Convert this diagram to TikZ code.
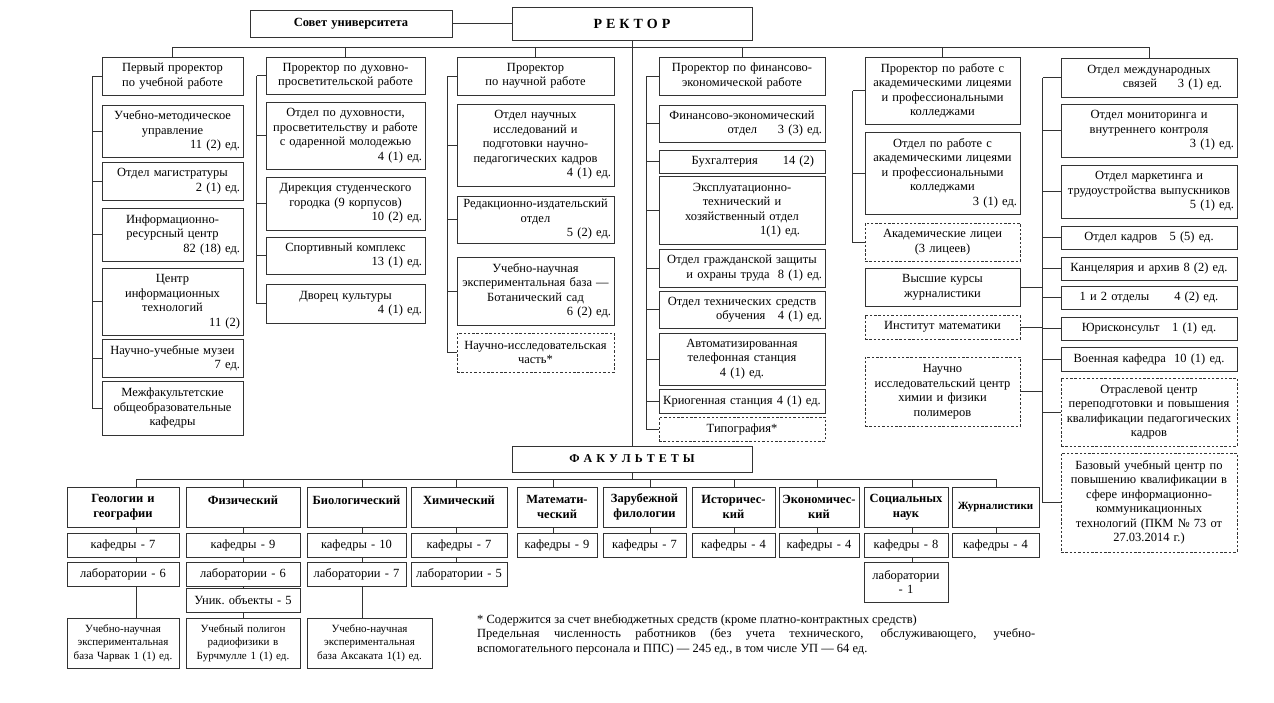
\documentclass[tikz,border=0pt]{standalone}
\usepackage{fontspec}
\setmainfont{Liberation Serif}
\newcommand\fs{\fontsize{12.5pt}{14.5pt}\selectfont}
\newcommand\fsm{\fontsize{11pt}{13.3pt}\selectfont}
\newcommand\rgt{\hspace*{0pt plus 1filll}}
\tikzset{
 box/.style={draw=black!80, line width=0.8pt, align=center, font=\fs, inner xsep=3pt, inner ysep=0pt},
 dbox/.style={dash pattern=on 2.5pt off 1.8pt},
 fac/.style={font=\fs\bfseries},
 sm/.style={font=\fsm},
 ln/.style={draw=black!80, line width=0.8pt},
}
\newcommand\bx[7][]{%
 \pgfmathsetmacro\bxw{#5-#3}%
 \pgfmathsetmacro\bxh{#6-#4}%
 \pgfmathsetmacro\bxtw{#5-#3-6}%
 \pgfmathsetmacro\bxcx{(#3+#5)/2}%
 \pgfmathsetmacro\bxcy{(#4+#6)/2}%
 \node[box,#1,minimum width=\bxw pt,minimum height=\bxh pt,text width=\bxtw pt] (#2) at (\bxcx,\bxcy) {#7};}
\begin{document}
\begin{tikzpicture}[x=1pt,y=-1pt]
\fill[white] (0,0) rectangle (1274,702);
\useasboundingbox (0,0) rectangle (1274,702);
% top
\bx[fac]{sovet}{250}{10}{452}{37}{Совет университета}
\bx[font=\fontsize{14pt}{16pt}\selectfont\bfseries]{rektor}{512}{7}{752}{40}{Р\kern4ptЕ\kern4ptК\kern4ptТ\kern4ptО\kern4ptР}
% column 1
\bx{c1h}{102}{57}{243}{95}{Первый проректор\\по учебной работе}
\bx{c1b1}{102}{105}{243}{157}{Учебно-методическое\\управление\\\rgt 11 (2) ед.}
\bx{c1b2}{102}{162}{243}{200}{Отдел магистратуры\\\rgt 2 (1) ед.}
\bx{c1b3}{102}{208}{243}{261}{Информационно-\\ресурсный центр\\\rgt 82 (18) ед.}
\bx{c1b4}{102}{268}{243}{335}{Центр\\информационных\\технологий\\\rgt 11 (2)}
\bx{c1b5}{102}{339}{243}{377}{Научно-учебные музеи\\\rgt 7 ед.}
\bx{c1b6}{102}{381}{243}{435}{Межфакультетские\\общеобразовательные\\кафедры}
% column 2
\bx{c2h}{266}{57}{425}{94}{Проректор по духовно-\\просветительской работе}
\bx{c2b1}{266}{102}{425}{169}{Отдел по духовности,\\просветительству и работе\\с одаренной молодежью\\\rgt 4 (1) ед.}
\bx{c2b2}{266}{177}{425}{230}{Дирекция студенческого\\городка (9 корпусов)\\\rgt 10 (2) ед.}
\bx{c2b3}{266}{237}{425}{274}{Спортивный комплекс\\\rgt 13 (1) ед.}
\bx{c2b4}{266}{284}{425}{323}{Дворец культуры\\\rgt 4 (1) ед.}
% column 3
\bx{c3h}{457}{57}{614}{95}{Проректор\\по научной работе}
\bx{c3b1}{457}{104}{614}{186}{Отдел научных\\исследований и\\подготовки научно-\\педагогических кадров\\\rgt 4 (1) ед.}
\bx{c3b2}{457}{196}{614}{243}{Редакционно-издательский\\отдел\\\rgt 5 (2) ед.}
\bx{c3b3}{457}{257}{614}{325}{Учебно-научная\\экспериментальная база —\\Ботанический сад\\\rgt 6 (2) ед.}
\bx[dbox]{c3b4}{457}{333}{614}{372}{Научно-исследовательская\\часть*}
% column 4
\bx{c4h}{659}{57}{825}{95}{Проректор по финансово-\\экономической работе}
\bx{c4b1}{659}{105}{825}{142}{Финансово-экономический\\\rgt отдел\quad\ \ 3 (3) ед.}
\bx{c4b2}{659}{150}{825}{173}{\rgt Бухгалтерия\qquad 14 (2)\kern8pt}
\bx{c4b3}{659}{176}{825}{244}{Эксплуатационно-\\технический и\\хозяйственный отдел\\\rgt 1(1) ед.\kern22pt}
\bx{c4b4}{659}{249}{825}{287}{Отдел гражданской защиты\\\rgt и охраны труда\ \ 8 (1) ед.}
\bx{c4b5}{659}{291}{825}{328}{Отдел технических средств\\\rgt обучения\quad 4 (1) ед.}
\bx{c4b6}{659}{333}{825}{385}{Автоматизированная\\телефонная станция\\4 (1) ед.}
\bx{c4b7}{659}{389}{825}{413}{Криогенная станция 4 (1) ед.}
\bx[dbox]{c4b8}{659}{417}{825}{441}{Типография*}
% column 5
\bx{c5h}{865}{57}{1020}{124}{Проректор по работе с\\академическими лицеями\\и профессиональными\\колледжами}
\bx{c5b1}{865}{132}{1020}{214}{Отдел по работе с\\академическими лицеями\\и профессиональными\\колледжами\\\rgt 3 (1) ед.}
\bx[dbox]{c5b2}{865}{223}{1020}{261}{Академические лицеи\\(3 лицеев)}
\bx{c5b3}{865}{268}{1020}{306}{Высшие курсы\\журналистики}
\bx[dbox]{c5b4}{865}{315}{1020}{339}{Институт математики}
\bx[dbox]{c5b5}{865}{357}{1020}{426}{Научно\\исследовательский центр\\химии и физики\\полимеров}
% column 6
\bx{c6h}{1061}{58}{1237}{97}{Отдел международных\\\rgt связей\quad\ \ 3 (1) ед.\kern12pt}
\bx{c6b1}{1061}{104}{1237}{157}{Отдел мониторинга и\\внутреннего контроля\\\rgt 3 (1) ед.}
\bx{c6b2}{1061}{165}{1237}{218}{Отдел маркетинга и\\трудоустройства выпускников\\\rgt 5 (1) ед.}
\bx{c6b3}{1061}{226}{1237}{249}{Отдел кадров\quad 5 (5) ед.}
\bx{c6b4}{1061}{257}{1237}{280}{Канцелярия и архив 8 (2) ед.}
\bx{c6b5}{1061}{286}{1237}{309}{1 и 2 отделы\qquad 4 (2) ед.}
\bx{c6b6}{1061}{317}{1237}{340}{Юрисконсульт\quad 1 (1) ед.}
\bx{c6b7}{1061}{347}{1237}{371}{Военная кафедра\ \ 10 (1) ед.}
\bx[dbox]{c6b8}{1061}{378}{1237}{446}{Отраслевой центр\\переподготовки и повышения\\квалификации педагогических\\кадров}
\bx[dbox]{c6b9}{1061}{453}{1237}{552}{Базовый учебный центр по\\повышению квалификации в\\сфере информационно-\\коммуникационных\\технологий (ПКМ № 73 от\\27.03.2014 г.)}
% top connectors
\draw[ln] (sovet.east) -- (rektor.west);
\coordinate (tb) at (632,47);
\draw[ln] (c1h.north |- tb) -- (c6h.north |- tb);
\foreach \n in {c1h,c2h,c3h,c4h,c5h,c6h} \draw[ln] (\n.north) -- (\n.north |- tb);
% column brackets
\draw[ln] (c1h.west) -- ++(-9,0) coordinate (c1l);
\draw[ln] (c1l) |- (c1b6.west);
\foreach \n in {c1b1,c1b2,c1b3,c1b4,c1b5} \draw[ln] (\n.west) -- (\n.west -| c1l);
\draw[ln] (c2h.west) -- ++(-9,0) coordinate (c2l);
\draw[ln] (c2l) |- (c2b4.west);
\foreach \n in {c2b1,c2b2,c2b3} \draw[ln] (\n.west) -- (\n.west -| c2l);
\draw[ln] (c3h.west) -- ++(-9,0) coordinate (c3l);
\draw[ln] (c3l) |- (c3b4.west);
\foreach \n in {c3b1,c3b2,c3b3} \draw[ln] (\n.west) -- (\n.west -| c3l);
\draw[ln] (c4h.west) -- ++(-12,0) coordinate (c4l);
\draw[ln] (c4l) |- (c4b8.west);
\foreach \n in {c4b1,c4b2,c4b3,c4b4,c4b5,c4b6,c4b7} \draw[ln] (\n.west) -- (\n.west -| c4l);
\draw[ln] (c5h.west) -- ++(-12,0) coordinate (c5l);
\draw[ln] (c5l) |- (c5b2.west);
\draw[ln] (c5b1.west) -- (c5b1.west -| c5l);
\draw[ln] (c6h.west) -- ++(-18,0) coordinate (c6l);
\draw[ln] (c6l) |- (c6b9.west);
\foreach \n in {c6b1,c6b2,c6b3,c6b4,c6b5,c6b6,c6b7,c6b8} \draw[ln] (\n.west) -- (\n.west -| c6l);
\foreach \n in {c5b3,c5b4,c5b5} \draw[ln] (\n.east) -- (\n.east -| c6l);
% faculties
\bx[font=\fontsize{12pt}{14pt}\selectfont\bfseries]{fak}{512}{446}{752}{472}{Ф\kern4ptА\kern4ptК\kern4ptУ\kern4ptЛ\kern4ptЬ\kern4ptТ\kern4ptЕ\kern4ptТ\kern4ptЫ}
\draw[ln] (rektor.south) -- (fak.north);
\bx[fac]{f1}{67}{487}{179}{527}{Геологии и\\географии}
\bx[fac]{f2}{186}{487}{300}{527}{Физический\\\mbox{}}
\bx[fac]{f3}{307}{487}{406}{527}{Биологический\\\mbox{}}
\bx[fac]{f4}{411}{487}{507}{527}{Химический\\\mbox{}}
\bx[fac]{f5}{517}{487}{597}{527}{Математи-\\ческий}
\bx[fac]{f6}{603}{487}{686}{527}{Зарубежной\\филологии}
\bx[fac]{f7}{692}{487}{775}{527}{Историчес-\\кий}
\bx[fac]{f8}{779}{487}{859}{527}{Экономичес-\\кий}
\bx[fac]{f9}{864}{487}{948}{527}{Социальных\\наук}
\bx[font=\fontsize{11pt}{13pt}\selectfont\bfseries]{f10}{952}{487}{1039}{527}{Журналистики}
\bx{k1}{67}{533}{179}{557}{кафедры - 7}
\bx{k2}{186}{533}{300}{557}{кафедры - 9}
\bx{k3}{307}{533}{406}{557}{кафедры - 10}
\bx{k4}{411}{533}{507}{557}{кафедры - 7}
\bx{k5}{517}{533}{597}{557}{кафедры - 9}
\bx{k6}{603}{533}{686}{557}{кафедры - 7}
\bx{k7}{692}{533}{775}{557}{кафедры - 4}
\bx{k8}{779}{533}{859}{557}{кафедры - 4}
\bx{k9}{864}{533}{948}{557}{кафедры - 8}
\bx{k10}{952}{533}{1039}{557}{кафедры - 4}
\bx{l1}{67}{562}{179}{586}{лаборатории - 6}
\bx{l2}{186}{562}{300}{586}{лаборатории - 6}
\bx{l3}{307}{562}{406}{586}{лаборатории - 7}
\bx{l4}{411}{562}{507}{586}{лаборатории - 5}
\bx{l9}{864}{562}{948}{602}{лаборатории\\- 1}
\bx{u2}{186}{588}{300}{612}{Уник.\ объекты - 5}
\bx[sm]{b1}{67}{618}{179}{668}{Учебно-научная\\экспериментальная\\база Чарвак 1 (1) ед.}
\bx[sm]{b2}{186}{618}{300}{668}{Учебный полигон\\радиофизики в\\Бурчмулле 1 (1) ед.}
\bx[sm]{b3}{307}{618}{432}{668}{Учебно-научная\\экспериментальная\\база Аксаката 1(1) ед.}
\coordinate (s1) at (136,479);
\coordinate (s2) at (243,479);
\coordinate (s3) at (362,479);
\coordinate (s4) at (456,479);
\coordinate (s5) at (553,479);
\coordinate (s6) at (650,479);
\coordinate (s7) at (734,479);
\coordinate (s8) at (817,479);
\coordinate (s9) at (912,479);
\coordinate (s10) at (996,479);
\draw[ln] (fak.south) -- (fak.south |- s1);
\draw[ln] (s1) -- (s10);
\foreach \i in {1,...,10} {
 \draw[ln] (s\i) -- (s\i |- f\i.north);
 \draw[ln] (s\i |- f\i.south) -- (s\i |- k\i.north);
}
\foreach \i in {1,2,3,4} \draw[ln] (s\i |- k\i.south) -- (s\i |- l\i.north);
\draw[ln] (s9 |- k9.south) -- (s9 |- l9.north);
\draw[ln] (s1 |- l1.south) -- (s1 |- b1.north);
\draw[ln] (s2 |- l2.south) -- (s2 |- u2.north);
\draw[ln] (s2 |- u2.south) -- (s2 |- b2.north);
\draw[ln] (s3 |- l3.south) -- (s3 |- b3.north);
% note
\node[font=\fs, align=justify, text width=558pt, inner sep=0pt, anchor=north west] (note) at (477,614) {* Содержится за счет внебюджетных средств (кроме платно-контрактных средств)\\ Предельная численность работников (без учета технического, обслуживающего, учебно-\linebreak вспомогательного персонала и ППС) — 245 ед., в том числе УП — 64 ед.};
\end{tikzpicture}
\end{document}
